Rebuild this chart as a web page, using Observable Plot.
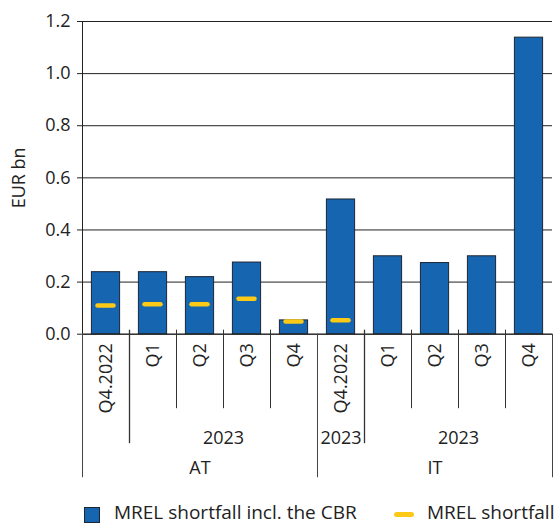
<!DOCTYPE html>
<html>
<head>
<meta charset="utf-8">
<script src="https://cdn.jsdelivr.net/npm/d3@7"></script>
<script src="https://cdn.jsdelivr.net/npm/@observablehq/plot@0.6"></script>
<style>
  body { margin: 0; background: #fff; font-family: "Open Sans", sans-serif; color: #222; }
  #wrap { position: relative; width: 557px; height: 526px; overflow: hidden; }
  #legend { position: absolute; left: 0; top: 503px; height: 19px; width: 557px; font-size: 19px; line-height: 19px; white-space: nowrap; }
  .sw { position: absolute; }
</style>
</head>
<body>
<div id="wrap">
  <div id="chart"></div>
  <div id="legend"></div>
</div>
<script>
// ---- data ----
const countries = ["AT", "AT", "AT", "AT", "AT", "IT", "IT", "IT", "IT", "IT"];
const periods = ["Q4.2022", "Q1", "Q2", "Q3", "Q4", "Q4.2022", "Q1", "Q2", "Q3", "Q4"];
const yearLabels = ["", "2023", "2023", "2023", "2023", "2023", "2023", "2023", "2023", "2023"];
const yearGroups = ["AT-a", "AT-b", "AT-b", "AT-b", "AT-b", "IT-a", "IT-b", "IT-b", "IT-b", "IT-b"];
const shortfallInclCBR = [0.238, 0.238, 0.219, 0.275, 0.053, 0.517, 0.299, 0.273, 0.299, 1.138];
const shortfall = [0.110, 0.115, 0.115, 0.136, 0.049, 0.054, null, null, null, null];
const yTicks = [0, 0.2, 0.4, 0.6, 0.8, 1.0, 1.2];
const seriesNames = ["MREL shortfall incl. the CBR", "MREL shortfall"];
const colors = ["#1565b0", "#fcc917"];

// ---- derived tables ----
const data = periods.map((p, i) => ({
  i, period: p, country: countries[i], total: shortfallInclCBR[i], mrel: shortfall[i]
}));
function runs(keys, labels) {
  const out = [];
  keys.forEach((k, i) => {
    const last = out[out.length - 1];
    if (last && last.key === k) last.end = i + 1;
    else out.push({key: k, label: labels[i], start: i, end: i + 1});
  });
  return out;
}
const yearRuns = runs(yearGroups, yearLabels).filter(d => d.label);
const countryRuns = runs(countries, countries);
const bounds = d3.range(periods.length + 1).map(k => ({
  k,
  level: (k === 0 || k === periods.length || countries[k] !== countries[k - 1]) ? 3
       : (yearGroups[k] !== yearGroups[k - 1]) ? 2 : 1
}));

// ---- layout ----
const W = 557, H = 500, mT = 21, mB = 166.3, mL = 82, mR = 5;
const frameH = H - mT - mB;
const font = "Open Sans";

const chart = Plot.plot({
  width: W, height: H,
  marginTop: mT, marginBottom: mB, marginLeft: mL, marginRight: mR,
  style: {fontFamily: font, fontSize: "18px", color: "#222", background: "#fff", overflow: "visible"},
  x: {domain: [0, periods.length], axis: null},
  y: {domain: [0, 1.2], axis: null},
  marks: [
    Plot.gridY(yTicks, {stroke: "#222", strokeOpacity: 1, strokeWidth: 1}),
    Plot.axisY(yTicks, {tickFormat: d3.format(".1f"), tickSize: 5, tickPadding: 7, label: null, stroke: "#222", fontSize: 18}),
    Plot.rectY(data, {
      x1: d => d.i + 0.2, x2: d => d.i + 0.8, y: "total",
      fill: colors[0], stroke: "#1c2633", strokeWidth: 1
    }),
    Plot.ruleY(data.filter(d => d.mrel != null), {
      x1: d => d.i + 0.33, x2: d => d.i + 0.67, y: "mrel",
      stroke: colors[1], strokeWidth: 4.5, strokeLinecap: "round"
    }),
    // y axis line
    Plot.ruleX([0], {stroke: "#222"}),
    // baseline
    Plot.ruleY([0], {stroke: "#222"}),
    // category separators below the axis
    Plot.ruleX(bounds.filter(d => d.level === 1), {x: "k", insetTop: frameH - 4, insetBottom: -74.5, stroke: "#333"}),
    Plot.ruleX(bounds.filter(d => d.level === 2), {x: "k", insetTop: frameH - 4, insetBottom: -109.5, stroke: "#333", strokeWidth: 1.3}),
    Plot.ruleX(bounds.filter(d => d.level === 3), {x: "k", insetTop: frameH, insetBottom: -143.5, stroke: "#444"}),
    // level 1 labels (rotated)
    Plot.text(data, {
      x: d => d.i + 0.5, text: "period", frameAnchor: "bottom", rotate: -90,
      textAnchor: "end", lineAnchor: "middle", dy: 9, fontSize: 18, fill: "#222"
    }),
    // level 2 labels
    Plot.text(yearRuns, {
      x: d => (d.start + d.end) / 2, text: "label", frameAnchor: "bottom",
      lineAnchor: "middle", dy: 104, fontSize: 18, fill: "#222"
    }),
    // level 3 labels
    Plot.text(countryRuns, {
      x: d => (d.start + d.end) / 2, text: "label", frameAnchor: "bottom",
      lineAnchor: "middle", dy: 134, fontSize: 18, fill: "#222"
    }),
    // y label
    Plot.text(["EUR bn"], {
      frameAnchor: "left", rotate: -90, dx: -63, lineAnchor: "middle",
      textAnchor: "middle", fontSize: 18, fill: "#222"
    })
  ]
});
document.getElementById("chart").appendChild(chart);

// ---- legend ----
const lg = document.getElementById("legend");
lg.innerHTML =
  `<span class="sw" style="left:84px;top:4px;width:16px;height:16px;background:${colors[0]};border:1px solid #1c2633;box-sizing:border-box;"></span>` +
  `<span class="sw" style="left:114px;top:0;">${seriesNames[0]}</span>` +
  `<span class="sw" style="left:394px;top:9px;width:20px;height:4.5px;border-radius:2.5px;background:${colors[1]};"></span>` +
  `<span class="sw" style="left:427px;top:0;">${seriesNames[1]}</span>`;
</script>
</body>
</html>
